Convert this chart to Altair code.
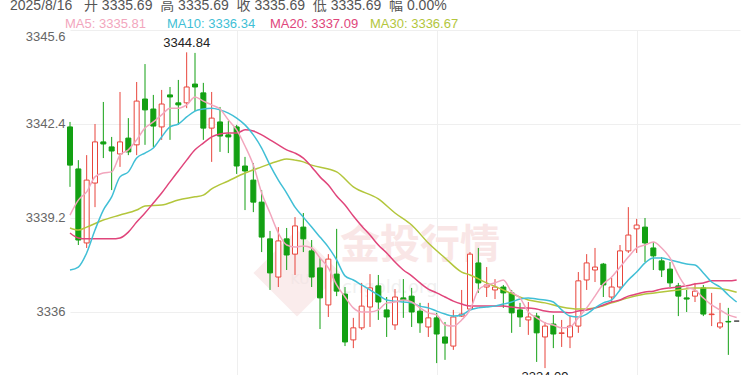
import altair as alt
import pandas as pd

# ---------------- data ----------------
opens = [3342.30, 3340.87, 3338.35, 3340.39, 3341.79, 3341.62, 3341.38, 3341.92, 3341.69, 3343.25,
         3342.91, 3342.30, 3343.39, 3343.12, 3343.12, 3343.76, 3343.46, 3342.26, 3342.47, 3342.03,
         3342.30, 3340.97, 3340.49, 3339.74, 3338.49, 3337.19, 3338.49, 3337.97, 3338.89, 3338.08,
         3337.50, 3336.24, 3337.29, 3336.61, 3335.05, 3335.46, 3336.17, 3336.89, 3336.07, 3335.56,
         3336.48, 3336.54, 3336.03, 3335.49, 3335.80, 3335.15, 3334.84, 3335.86, 3336.10, 3337.67,
         3336.85, 3336.75, 3336.85, 3336.65, 3336.07, 3335.73, 3335.86, 3335.15, 3335.59, 3335.27,
         3335.15, 3335.52, 3337.09, 3337.43, 3337.63, 3336.51, 3336.85, 3338.08, 3338.83, 3338.89,
         3338.18, 3337.74, 3337.46, 3336.89, 3336.48, 3336.54, 3336.82, 3335.91, 3335.49, 3335.68,
         3335.69]
highs = [3342.47, 3341.17, 3341.34, 3342.40, 3343.15, 3341.96, 3343.49, 3342.60, 3343.83, 3344.44,
         3343.39, 3343.56, 3343.66, 3343.90, 3344.84, 3344.82, 3343.80, 3343.49, 3342.98, 3342.50,
         3342.37, 3341.28, 3341.07, 3340.15, 3338.76, 3338.89, 3338.86, 3339.23, 3339.37, 3338.45,
         3337.84, 3337.97, 3338.83, 3336.85, 3335.80, 3336.99, 3337.29, 3337.26, 3336.51, 3336.78,
         3337.12, 3336.82, 3336.31, 3336.31, 3335.97, 3335.66, 3336.07, 3336.75, 3338.04, 3338.18,
         3337.53, 3337.12, 3336.92, 3336.75, 3336.31, 3336.34, 3335.97, 3335.66, 3335.90, 3335.73,
         3335.86, 3337.36, 3337.97, 3338.18, 3337.67, 3337.16, 3338.28, 3339.57, 3339.17, 3339.20,
         3338.38, 3337.87, 3337.70, 3336.99, 3336.75, 3336.99, 3336.92, 3336.65, 3336.31, 3336.14,
         3335.69]
lows = [3340.26, 3338.28, 3338.18, 3339.57, 3341.24, 3340.15, 3340.94, 3341.34, 3341.34, 3341.69,
        3341.62, 3341.86, 3341.86, 3342.37, 3342.94, 3342.84, 3341.86, 3341.11, 3341.45, 3341.41,
        3340.70, 3339.47, 3339.40, 3338.04, 3336.75, 3336.85, 3337.43, 3337.26, 3338.04, 3336.85,
        3335.42, 3335.83, 3336.54, 3334.84, 3334.77, 3335.39, 3335.49, 3335.73, 3335.15, 3335.39,
        3335.80, 3335.49, 3335.29, 3335.15, 3334.26, 3334.37, 3334.71, 3335.83, 3336.07, 3336.65,
        3336.51, 3336.44, 3336.14, 3335.29, 3335.49, 3335.22, 3334.30, 3334.09, 3334.77, 3334.81,
        3334.77, 3335.29, 3336.75, 3337.02, 3336.51, 3336.31, 3336.75, 3338.01, 3338.01, 3337.70,
        3337.43, 3337.19, 3336.85, 3335.86, 3336.00, 3336.34, 3335.86, 3335.52, 3335.42, 3334.54,
        3335.69]
closes = [3341.00, 3338.45, 3340.49, 3341.79, 3341.72, 3341.48, 3341.79, 3341.45, 3343.18, 3342.88,
          3342.33, 3343.08, 3343.32, 3343.05, 3343.66, 3343.66, 3342.26, 3342.60, 3341.99, 3341.96,
          3340.97, 3340.80, 3339.74, 3338.55, 3337.33, 3338.42, 3337.94, 3338.93, 3338.49, 3337.19,
          3336.48, 3337.80, 3336.71, 3334.98, 3335.46, 3336.20, 3336.82, 3336.34, 3335.83, 3336.51,
          3336.41, 3336.00, 3335.63, 3335.80, 3335.25, 3334.94, 3335.83, 3335.93, 3337.97, 3336.99,
          3336.92, 3336.85, 3336.65, 3335.97, 3335.83, 3335.83, 3335.29, 3335.52, 3335.25, 3335.29,
          3335.52, 3337.06, 3337.67, 3337.53, 3336.92, 3336.85, 3338.08, 3338.62, 3338.96, 3338.35,
          3337.91, 3337.43, 3336.99, 3336.54, 3336.44, 3336.71, 3335.93, 3335.93, 3335.63, 3335.66,
          3335.69]

ma5 = [3339.30, 3339.81, 3340.09, 3340.60, 3340.73, 3340.77, 3341.34, 3341.52, 3341.86, 3342.26,
       3342.47, 3342.71, 3342.94, 3342.94, 3343.05, 3343.32, 3343.18, 3343.05, 3342.91, 3342.54,
       3342.20, 3341.65, 3341.00, 3340.05, 3339.37, 3338.69, 3338.28, 3338.21, 3338.25, 3338.18,
       3337.84, 3337.50, 3336.92, 3336.51, 3336.14, 3336.00, 3336.00, 3336.07, 3336.31, 3336.34,
       3336.41, 3336.34, 3336.14, 3335.97, 3335.90, 3335.56, 3335.52, 3335.73, 3336.07, 3336.75,
       3336.92, 3336.99, 3337.09, 3336.68, 3336.48, 3336.00, 3335.80, 3335.63, 3335.56, 3335.46,
       3335.49, 3335.80, 3336.14, 3336.54, 3336.95, 3337.19, 3337.53, 3337.87, 3338.18, 3338.28,
       3338.38, 3338.18, 3337.84, 3337.26, 3336.85, 3336.75, 3336.48, 3336.24, 3336.07, 3335.90,
       3335.81]
ma10 = [3337.43, 3337.53, 3338.01, 3338.79, 3339.47, 3339.92, 3340.60, 3340.77, 3341.24, 3341.41,
        3341.58, 3341.96, 3342.30, 3342.40, 3342.64, 3342.84, 3342.91, 3342.94, 3342.88, 3342.77,
        3342.60, 3342.37, 3342.03, 3341.58, 3341.00, 3340.49, 3340.05, 3339.57, 3339.23, 3338.89,
        3338.55, 3338.21, 3337.77, 3337.23, 3337.09, 3336.92, 3336.75, 3336.58, 3336.41, 3336.37,
        3336.34, 3336.31, 3336.20, 3336.14, 3336.03, 3335.93, 3335.86, 3335.90, 3336.07, 3336.14,
        3336.17, 3336.20, 3336.27, 3336.34, 3336.44, 3336.48, 3336.44, 3336.41, 3336.34, 3336.07,
        3335.86, 3335.83, 3335.93, 3336.14, 3336.31, 3336.41, 3336.75, 3337.09, 3337.36, 3337.67,
        3337.84, 3337.84, 3337.77, 3337.70, 3337.63, 3337.60, 3337.33, 3337.02, 3336.85, 3336.58,
        3336.34]
ma20 = [3338.69, 3338.52, 3338.49, 3338.49, 3338.49, 3338.49, 3338.52, 3338.72, 3339.06, 3339.37,
        3339.71, 3340.05, 3340.43, 3340.80, 3341.17, 3341.52, 3341.75, 3341.96, 3342.06, 3342.09,
        3342.09, 3342.20, 3342.16, 3342.03, 3341.86, 3341.69, 3341.52, 3341.41, 3341.24, 3340.94,
        3340.60, 3340.32, 3339.95, 3339.64, 3339.27, 3338.93, 3338.62, 3338.28, 3338.01, 3337.70,
        3337.43, 3337.23, 3336.99, 3336.78, 3336.65, 3336.51, 3336.37, 3336.27, 3336.20, 3336.20,
        3336.20, 3336.20, 3336.20, 3336.17, 3336.14, 3336.14, 3336.10, 3336.03, 3336.00, 3336.00,
        3335.97, 3336.03, 3336.07, 3336.14, 3336.24, 3336.34, 3336.41, 3336.54, 3336.61, 3336.68,
        3336.71, 3336.78, 3336.82, 3336.85, 3336.89, 3336.95, 3336.99, 3337.06, 3337.06, 3337.06,
        3337.09]
ma30_idx = [0, 1, 2, 4, 6, 8, 9, 11, 13, 15, 16, 17, 19, 21, 23, 25, 26, 27, 28, 29, 31, 32, 34,
            37, 39, 41, 43, 45, 47, 48, 50, 52, 55, 57, 59, 61, 63, 65, 67, 69, 71, 73, 75, 77, 79, 80]
ma30 = [3338.86, 3338.79, 3338.89, 3339.13, 3339.30, 3339.47, 3339.61, 3339.64, 3339.81, 3339.92,
        3339.98, 3340.19, 3340.46, 3340.73, 3340.94, 3341.14, 3341.21, 3341.17, 3341.11, 3341.00,
        3340.87, 3340.77, 3340.26, 3339.85, 3339.37, 3338.96, 3338.35, 3337.84, 3337.36, 3337.26,
        3336.99, 3336.75, 3336.41, 3336.31, 3336.17, 3336.10, 3336.14, 3336.31, 3336.48, 3336.61,
        3336.68, 3336.75, 3336.82, 3336.82, 3336.75, 3336.67]

y_ticks = [3336, 3339.2, 3342.4, 3345.6]
x_grid = [20, 44, 68]

NB = "\u00a0"
header = ("2025/8/16" + NB * 3 + "开" + NB + "3335.69" + NB * 2 + "高" + NB + "3335.69" + NB * 2 +
          "收" + NB + "3335.69" + NB * 2 + "低" + NB + "3335.69" + NB * 2 + "幅" + NB + "0.00%")
ma_labels = ["MA5: 3335.81", "MA10: 3336.34", "MA20: 3337.09", "MA30: 3336.67"]
max_label = ("3344.84", 14, 3344.84)
min_label = ("3334.09", 57, 3334.09)

# ---------------- styles ----------------
RED = "#e8453c"
GREEN = "#13a013"
GRAY = "#444444"
C_MA5 = "#f2a6bd"
C_MA10 = "#41bfd6"
C_MA20 = "#e0457b"
C_MA30 = "#b3c63c"
FONT = "Liberation Sans, Noto Sans CJK SC, sans-serif"

# ---------------- tables ----------------
n = len(opens)
df = pd.DataFrame({"i": list(range(n)), "open": opens, "high": highs,
                   "low": lows, "close": closes})
df["dir"] = ["flat" if c == o else ("up" if c > o else "down") for o, c in zip(opens, closes)]

ma_rows = []
for name, vals, idxs in [("MA30", ma30, ma30_idx), ("MA20", ma20, list(range(n))),
                         ("MA10", ma10, list(range(n))), ("MA5", ma5, list(range(n)))]:
    for i, v in zip(idxs, vals):
        ma_rows.append({"i": i, "v": v, "s": name})
ma_df = pd.DataFrame(ma_rows)

xs = alt.Scale(domain=[0, 80.4], padding=0, nice=False, zero=False)
ys = alt.Scale(domain=[3333.855, 3345.6], nice=False, zero=False)

x_axis = alt.Axis(values=x_grid, grid=True, gridColor="#efefef", labels=False,
                  ticks=False, domain=False, title=None)
y_axis = alt.Axis(values=y_ticks, grid=True, gridColor="#efefef", ticks=False, domain=False,
                  title=None, labelColor="#666666", labelFontSize=13, labelFont="Liberation Sans",
                  labelPadding=5, labelFlush=True, format=".1~f")

dir_dom = ["up", "down", "flat"]

# watermark
wm_diamond = alt.Chart(pd.DataFrame({"k": [0]})).mark_point(
    shape="square", angle=45, filled=True, color="#f6dada", opacity=0.5, size=3800
).encode(x=alt.value(227), y=alt.value(243))
wm_ku = alt.Chart(pd.DataFrame({"t": ["KU"]})).mark_text(
    font="DejaVu Sans", fontSize=14, color="#f3e6e6", baseline="middle"
).encode(x=alt.value(230), y=alt.value(250), text="t:N")
wm_text = alt.Chart(pd.DataFrame({"t": ["金投行情"]})).mark_text(
    font="Noto Sans CJK SC", fontSize=40, fontWeight="bold", color="#f9e6e6", align="left",
    baseline="middle"
).encode(x=alt.value(270), y=alt.value(216), text="t:N")
wm_sub = alt.Chart(pd.DataFrame({"t": ["cngold.org"]})).mark_text(
    font="DejaVu Sans", fontSize=18, color="#f0f0f0", align="left", baseline="middle"
).encode(x=alt.value(272), y=alt.value(258), text="t:N")

wick = alt.Chart(df).mark_rule(strokeWidth=1).encode(
    x=alt.X("i:Q", scale=xs, axis=x_axis),
    y=alt.Y("low:Q", scale=ys, axis=y_axis),
    y2="high:Q",
    color=alt.Color("dir:N", scale=alt.Scale(domain=dir_dom, range=[RED, GREEN, GRAY]), legend=None),
)
body = alt.Chart(df).mark_bar(size=5, strokeWidth=1).encode(
    x=alt.X("i:Q", scale=xs),
    y=alt.Y("open:Q", scale=ys),
    y2="close:Q",
    fill=alt.Fill("dir:N", scale=alt.Scale(domain=dir_dom, range=["#ffffff", GREEN, GRAY]), legend=None),
    stroke=alt.Stroke("dir:N", scale=alt.Scale(domain=dir_dom, range=[RED, GREEN, GRAY]), legend=None),
)

lines = alt.Chart(ma_df).mark_line(strokeWidth=1.5, interpolate="monotone").encode(
    x=alt.X("i:Q", scale=xs),
    y=alt.Y("v:Q", scale=ys),
    detail="s:N",
    color=alt.Color("s:N", scale=alt.Scale(domain=["MA5", "MA10", "MA20", "MA30"],
                                           range=[C_MA5, C_MA10, C_MA20, C_MA30]), legend=None),
)

hi = alt.Chart(pd.DataFrame({"t": [max_label[0]], "i": [max_label[1]], "v": [max_label[2]]})).mark_text(
    font=FONT, fontSize=13, color="#222222", baseline="bottom", dy=-2
).encode(x=alt.X("i:Q", scale=xs), y=alt.Y("v:Q", scale=ys), text="t:N")
lo = alt.Chart(pd.DataFrame({"t": [min_label[0]], "i": [min_label[1]], "v": [min_label[2]]})).mark_text(
    font=FONT, fontSize=13, color="#222222", baseline="top", dy=3
).encode(x=alt.X("i:Q", scale=xs), y=alt.Y("v:Q", scale=ys), text="t:N")

head = alt.Chart(pd.DataFrame({"t": [header]})).mark_text(
    font=FONT, fontSize=14, color="#555555", align="left", baseline="alphabetic"
).encode(x=alt.value(-60), y=alt.value(-20), text="t:N")

ma_text_layers = []
for lab, col, px in zip(ma_labels, [C_MA5, C_MA10, C_MA20, C_MA30], [-5, 97, 200, 300]):
    ma_text_layers.append(
        alt.Chart(pd.DataFrame({"t": [lab]})).mark_text(
            font=FONT, fontSize=13, color=col, align="left", baseline="alphabetic"
        ).encode(x=alt.value(px), y=alt.value(-2), text="t:N")
    )

chart = alt.layer(
    wm_diamond, wm_ku, wm_text, wm_sub, wick, body, lines, hi, lo, head, *ma_text_layers
).resolve_scale(color="independent").properties(
    width=670, height=345,
    autosize=alt.AutoSizeParams(type="none"),
    padding={"left": 70, "top": 30, "right": 10, "bottom": 0},
    background="#ffffff",
).configure_view(stroke=None)

chart.save("out.html", embed_options={"renderer": "svg", "actions": False})
